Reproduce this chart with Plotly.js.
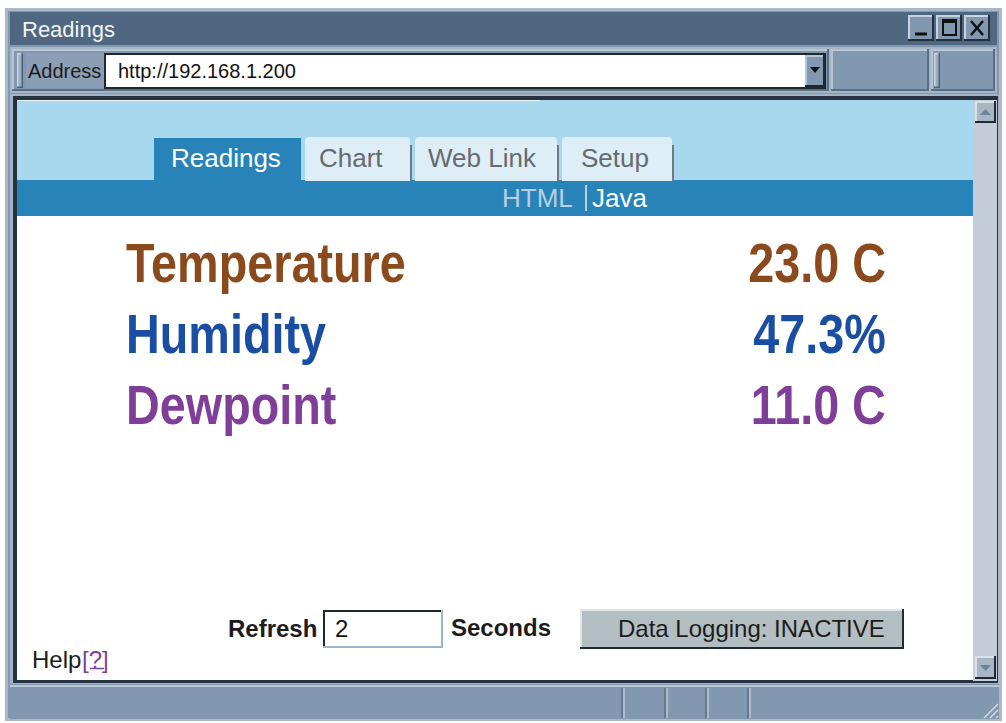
<!DOCTYPE html>
<html>
<head>
<meta charset="utf-8">
<script src="https://cdn.plot.ly/plotly-3.0.1.min.js"></script>
<style>html,body{margin:0;padding:0;background:#fff;}#chart{width:1006px;height:723px;}</style>
</head>
<body>
<div id="chart"></div>
<script>
// ---- data ----
const windowTitle = 'Readings';
const addressLabel = 'Address';
const addressUrl = 'http://192.168.1.200';
const tabLabels = ['Readings', 'Chart', 'Web Link', 'Setup'];
const activeTab = 'Readings';
const subLinks = ['HTML', 'Java'];
const readingLabels = ['Temperature', 'Humidity', 'Dewpoint'];
const readingValues = [23.0, 47.3, 11.0];
const readingUnits = [' C', '%', ' C'];
const refreshSeconds = 2;
const loggingStatus = 'INACTIVE';

// ---- styles ----
const SANS = 'Liberation Sans, Arial, sans-serif';
const readingColors = ['#8b4a1c', '#1a4ea2', '#7f3f98'];
const CONDENSE = 0.835;

const shapes = [];
const ann = [];
const condensed = []; // [annotation index, anchor side]
function rect(x0, y0, x1, y1, fill, line, lw) {
  shapes.push({type: 'rect', xref: 'x', yref: 'y', x0, y0, x1, y1, fillcolor: fill,
    line: {color: line || fill, width: lw === undefined ? 0 : lw}, layer: 'below'});
}
function ln(x0, y0, x1, y1, color, w) {
  shapes.push({type: 'line', xref: 'x', yref: 'y', x0, y0, x1, y1, line: {color, width: w || 1}, layer: 'below'});
}
function path(d, fill, color, w) {
  shapes.push({type: 'path', xref: 'x', yref: 'y', path: d, fillcolor: fill || 'rgba(0,0,0,0)',
    line: {color: color || 'rgba(0,0,0,0)', width: w || 0}, layer: 'below'});
}
function bevel(x0, y0, x1, y1, fill, light, dark, w) {
  rect(x0, y0, x1, y1, fill);
  w = w || 1;
  ln(x0, y0 + w / 2, x1, y0 + w / 2, light, w);
  ln(x0 + w / 2, y0, x0 + w / 2, y1, light, w);
  ln(x0, y1 - w / 2, x1, y1 - w / 2, dark, w);
  ln(x1 - w / 2, y0, x1 - w / 2, y1, dark, w);
}
function text(x, y, t, opts) {
  const o = Object.assign({xref: 'x', yref: 'y', x, y, text: t, showarrow: false,
    xanchor: 'left', yanchor: 'middle', borderpad: 0,
    font: {family: SANS, size: 20, color: '#222'}}, opts || {});
  if (o.xanchor === 'left') o.x = o.x - 2;
  ann.push(o);
  return ann.length - 1;
}

// ---- window frame ----
rect(5, 8, 1002, 721, '#a9b9ca');
rect(8, 11, 999, 718, '#8298b0');
// title bar
rect(10, 12, 997, 45, '#4f6781');
text(23, 29, windowTitle, {font: {family: SANS, size: 22, color: '#f2f4f6'}});
// window buttons
const wbx = [908, 936, 964];
wbx.forEach(function (bx) { bevel(bx, 15, bx + 26, 41, '#8298b0', '#c5d2df', '#22303c', 2); });
ln(915, 34, 927, 34, '#111', 3);
rect(943, 20, 956, 35, 'rgba(0,0,0,0)', '#111', 2);
ln(943, 21.5, 956, 21.5, '#111', 3);
ln(971, 21, 983, 35, '#111', 2.5);
ln(983, 21, 971, 35, '#111', 2.5);

// address toolbar
rect(10, 47, 997, 93, '#a4b5c7');
bevel(12, 49, 829, 91, '#8198b0', '#b7c6d5', '#5b6f84', 2);
bevel(831, 49, 929, 91, '#8198b0', '#b7c6d5', '#5b6f84', 2);
bevel(931, 49, 995, 91, '#8198b0', '#b7c6d5', '#5b6f84', 2);
bevel(17, 53, 23, 88, '#9aaec2', '#c9d5e1', '#4f6276', 1.5);
bevel(934, 53, 940, 88, '#9aaec2', '#c9d5e1', '#4f6276', 1.5);
rect(26, 53, 104, 88, '#8a9fb6');
text(29, 71, addressLabel, {font: {family: SANS, size: 20, color: '#1c1c1c'}});
rect(104, 53, 826, 89, '#1d2833');
rect(106, 55, 805, 87, '#ffffff');
bevel(805, 55, 825, 87, '#8198b0', '#b7c6d5', '#1d2833', 2);
path('M 810 67 L 820 67 L 815 73 Z', '#111');
text(119, 71, addressUrl, {font: {family: SANS, size: 20, color: '#111'}});

// content frame
rect(10, 94, 999, 684, '#a3b4c6');
rect(13, 96, 998, 683, '#26323f');
rect(17, 100, 973, 680, '#ffffff');
rect(17, 100, 973, 181, '#a8d8ed');
ln(17, 100.5, 540, 100.5, '#e8f4fa', 1);
rect(17, 180, 973, 216, '#2884b8');
// scrollbar
rect(973, 100, 997, 681, '#c3ccd7');
bevel(975, 101, 996, 123, '#a8b6c4', '#d8e0e8', '#1d2833', 2);
path('M 980 115 L 991 115 L 985.5 109 Z', '#6f8296');
bevel(975, 656, 996, 679, '#a8b6c4', '#d8e0e8', '#1d2833', 2);
path('M 980 665 L 991 665 L 985.5 671 Z', '#6f8296');

// tabs
const tabX = [[154, 301], [305, 410], [415, 557], [562, 672]];
const tabTextX = [172, 320, 429, 582];
tabLabels.forEach(function (lbl, i) {
  const x0 = tabX[i][0], x1 = tabX[i][1];
  const active = lbl === activeTab;
  if (active) {
    rect(x0, 138, x1, 181, '#2884b8');
  } else {
    path('M ' + x0 + ' 181 L ' + x0 + ' 141 Q ' + x0 + ' 137 ' + (x0 + 4) + ' 137 L ' + (x1 - 4) + ' 137 Q ' + x1 + ' 137 ' + x1 + ' 141 L ' + x1 + ' 181 Z', '#deeef7');
    ln(x1 + 1, 145, x1 + 1, 181, '#6d7c88', 2);
  }
  text(tabTextX[i], 158, lbl, {font: {family: SANS, size: 26, color: active ? '#ffffff' : '#666a6d'}});
});
// sub links
text(503, 198, subLinks[0], {font: {family: SANS, size: 26, color: '#b8d0e2'}});
ln(586, 185, 586, 211, '#b8d0e2', 2);
text(593, 198, subLinks[1], {font: {family: SANS, size: 26, color: '#ffffff'}});

// readings
readingLabels.forEach(function (lbl, i) {
  const yc = 262 + i * 71;
  condensed.push([text(127, yc, '<b>' + lbl + '</b>', {font: {family: SANS, size: 56, color: readingColors[i]}}), 'left']);
  condensed.push([text(887, yc, '<b>' + readingValues[i].toFixed(1) + readingUnits[i] + '</b>',
    {xanchor: 'right', font: {family: SANS, size: 56, color: readingColors[i]}}), 'right']);
});

// refresh row
text(229, 628, '<b>Refresh</b>', {font: {family: SANS, size: 24, color: '#1c1c1c'}});
rect(323, 610, 443, 648, '#ffffff');
ln(323, 611, 443, 611, '#1d2833', 2);
ln(324, 610, 324, 648, '#1d2833', 2);
ln(323, 647, 443, 647, '#9bb6cf', 2);
ln(442, 610, 442, 648, '#9bb6cf', 2);
text(336, 628, String(refreshSeconds), {font: {family: SANS, size: 24, color: '#111'}});
text(452, 627, '<b>Seconds</b>', {font: {family: SANS, size: 24, color: '#1c1c1c'}});
bevel(580, 609, 904, 649, '#b3bec3', '#dfe6ea', '#1f2a33', 2);
text(751, 628, 'Data Logging: ' + loggingStatus, {xanchor: 'center', font: {family: SANS, size: 24, color: '#1c1c1c'}});

// help
text(33, 659, 'Help', {font: {family: SANS, size: 24, color: '#1c1c1c'}});
text(83, 659, '[?]', {font: {family: SANS, size: 24, color: '#7f3f98'}});
ln(90, 668.5, 104, 668.5, '#7f3f98', 1.5);

// status bar
rect(10, 685, 999, 719, '#8298b0');
ln(10, 686, 999, 686, '#b9c7d5', 2);
[622, 665, 706, 748].forEach(function (sx) {
  ln(sx, 688, sx, 718, '#5b6f84', 1.5);
  ln(sx + 2, 688, sx + 2, 718, '#b9c7d5', 1.5);
});
[0, 6, 12].forEach(function (d) {
  ln(984 + d, 718, 998, 704 + d, '#d3dde7', 1.5);
});

const layout = {
  width: 1006, height: 723,
  margin: {l: 0, r: 0, t: 0, b: 0},
  paper_bgcolor: '#ffffff', plot_bgcolor: '#ffffff',
  xaxis: {range: [0, 1006], visible: false, fixedrange: true},
  yaxis: {range: [723, 0], visible: false, fixedrange: true},
  showlegend: false,
  shapes: shapes,
  annotations: ann
};
Plotly.newPlot('chart', [], layout, {staticPlot: true, displayModeBar: false}).then(function (gd) {
  // condense the big reading texts (narrow face not installed)
  const groups = gd.querySelectorAll('.annotation');
  condensed.forEach(function (c) {
    const g = groups[c[0]];
    if (!g) return;
    const t = g.querySelector('text');
    if (!t) return;
    const bb = t.getBBox();
    const ax = c[1] === 'left' ? bb.x : bb.x + bb.width;
    t.setAttribute('transform', 'translate(' + ax + ',0) scale(' + CONDENSE + ',1) translate(' + (-ax) + ',0)');
  });
});
</script>
</body>
</html>
